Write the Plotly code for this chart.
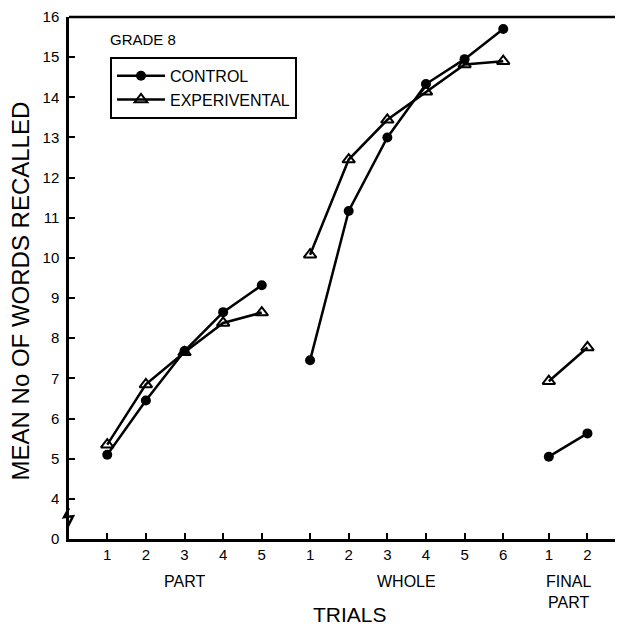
import plotly.graph_objects as go

# ---- data ----
part_trials = ["1", "2", "3", "4", "5"]
whole_trials = ["1", "2", "3", "4", "5", "6"]
final_trials = ["1", "2"]
group_names = ["PART", "WHOLE", "FINAL<br>PART"]

control_part = [5.1, 6.45, 7.68, 8.65, 9.32]
control_whole = [7.45, 11.17, 13.0, 14.33, 14.95, 15.7]
control_final = [5.05, 5.63]

exper_part = [5.35, 6.85, 7.65, 8.38, 8.64]
exper_whole = [10.08, 12.45, 13.44, 14.14, 14.82, 14.9]
exper_final = [6.93, 7.77]

y_tick_vals = [3, 4, 5, 6, 7, 8, 9, 10, 11, 12, 13, 14, 15, 16]
y_tick_text = ["0", "4", "5", "6", "7", "8", "9", "10", "11", "12", "13", "14", "15", "16"]

# ---- layout of groups on a numeric axis ----
group_offsets = [0.0, 5.25, 11.43]
groups = [part_trials, whole_trials, final_trials]

xpos_groups = [[off + i for i in range(len(g))] for off, g in zip(group_offsets, groups)]


def joined(segments, xs_groups):
    xs, ys = [], []
    for seg, xg in zip(segments, xs_groups):
        xs += xg + [None]
        ys += seg + [None]
    return xs[:-1], ys[:-1]


cx, cy = joined([control_part, control_whole, control_final], xpos_groups)
ex, ey = joined([exper_part, exper_whole, exper_final], xpos_groups)

tickvals = [v for g in xpos_groups for v in g]
ticktext = [t for g in groups for t in g]

FONT = "Liberation Sans"

fig = go.Figure()
fig.add_trace(go.Scatter(
    x=ex, y=ey, mode="lines+markers", name="EXPERIVENTAL",
    line=dict(color="black", width=2.5),
    marker=dict(symbol="triangle-up-open", size=11, color="black", line=dict(width=2)),
    connectgaps=False,
))
fig.add_trace(go.Scatter(
    x=cx, y=cy, mode="lines+markers", name="CONTROL",
    line=dict(color="black", width=2.5),
    marker=dict(symbol="circle", size=10, color="black"),
    connectgaps=False,
))

x0, x1 = -0.99, 13.35
y0, y1 = 3.0, 16.0

# page body has an 8px margin: plot area should sit at x=69..623, y=14..539 in the window
fig.update_layout(
    width=615, height=620,
    margin=dict(l=61, r=0, t=6, b=89),
    plot_bgcolor="white", paper_bgcolor="white",
    showlegend=True,
    legend=dict(
        x=(110 - 69) / 554, y=(539 - 54) / 525, xanchor="left", yanchor="top",
        bordercolor="black", borderwidth=2, bgcolor="white",
        font=dict(family=FONT, size=16, color="black"),
        traceorder="reversed", itemwidth=48,
    ),
    font=dict(family=FONT, color="black"),
)

fig.update_xaxes(
    range=[x0, x1], tickvals=tickvals, ticktext=ticktext,
    ticks="inside", ticklen=6, tickwidth=2, tickcolor="black",
    showline=True, linecolor="black", linewidth=2.5,
    showgrid=False, zeroline=False,
    tickfont=dict(family=FONT, size=15, color="black"),
)
fig.update_yaxes(
    range=[y0, y1], tickvals=y_tick_vals, ticktext=y_tick_text,
    ticks="inside", ticklen=6, tickwidth=2, tickcolor="black",
    showline=True, linecolor="black", linewidth=2.5,
    showgrid=False, zeroline=False, ticklabelstandoff=4,
    ticklabeloverflow="allow",
    tickfont=dict(family=FONT, size=15, color="black"),
)

# top border line
fig.add_shape(type="line", xref="paper", yref="paper", x0=0, x1=(618 - 69) / 554,
              y0=1, y1=1, line=dict(color="black", width=2.5))

# axis break zigzag on the y axis
px_x = 1 / 554
px_y = 1 / 525
zx = 0.0
zy = (539 - 518) / 525
zig = (f"M {zx:.5f},{zy + 10*px_y:.5f} L {zx - 5*px_x:.5f},{zy + 1*px_y:.5f} "
       f"L {zx + 4*px_x:.5f},{zy + 2*px_y:.5f} L {zx - 1*px_x:.5f},{zy - 8*px_y:.5f}")
fig.add_shape(type="path", xref="paper", yref="paper", path=zig,
              line=dict(color="black", width=2.5))

# group labels
for name, xg in zip(group_names, xpos_groups):
    centre = (xg[0] + xg[-1]) / 2
    fig.add_annotation(x=centre, xref="x", y=(539 - 571) / 525, yref="paper",
                       xanchor="center", yanchor="top", text=name, showarrow=False,
                       align="center",
                       font=dict(family=FONT, size=16, color="black"))

fig.add_annotation(x=(350 - 69) / 554, xref="paper", y=(539 - 615) / 525, yref="paper",
                   xanchor="center", yanchor="middle",
                   text="TRIALS", showarrow=False,
                   font=dict(family=FONT, size=21, color="black"))
fig.add_annotation(x=(20 - 69) / 554, xref="paper", y=(539 - 290) / 525, yref="paper",
                   xanchor="center", yanchor="middle",
                   text="MEAN No OF WORDS RECALLED", textangle=-90, showarrow=False,
                   font=dict(family=FONT, size=24, color="black"))
fig.add_annotation(x=(108 - 69) / 554, xref="paper", y=(539 - 37) / 525, yref="paper",
                   xanchor="left", yanchor="middle", text="GRADE 8", showarrow=False,
                   font=dict(family=FONT, size=15, color="black"))

fig.write_html("out.html")
